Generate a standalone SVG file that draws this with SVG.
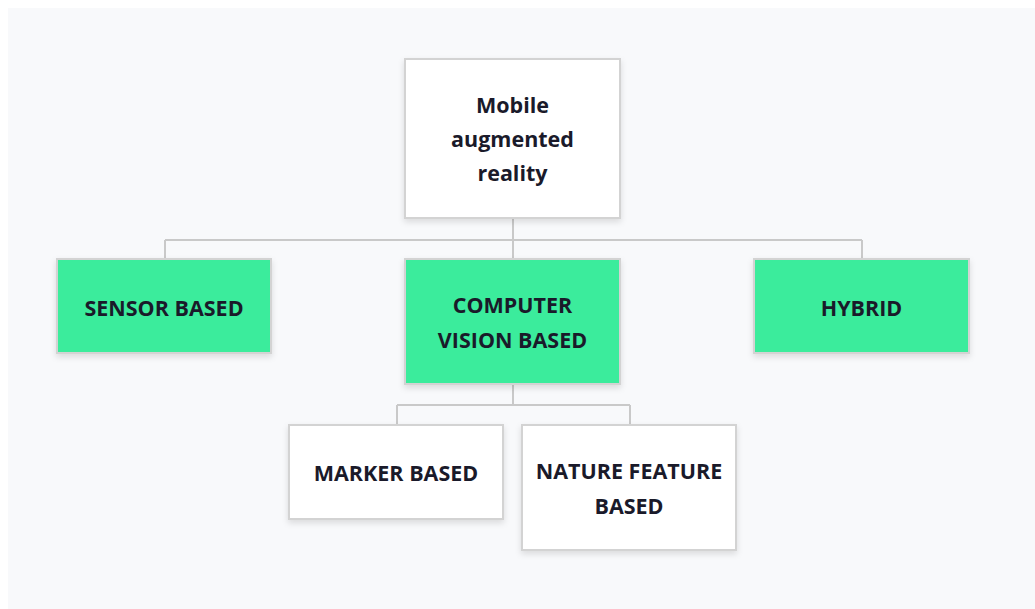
<svg xmlns="http://www.w3.org/2000/svg" width="1035" height="609" viewBox="0 0 1035 609">
<defs>
<filter id="sh" x="-10%" y="-10%" width="120%" height="130%">
<feDropShadow dx="0" dy="3" stdDeviation="3" flood-color="#000" flood-opacity="0.12"/>
</filter>
<style>
.box{stroke:#d3d3d3;stroke-width:2;filter:url(#sh)}
.w{fill:#ffffff}
.g{fill:#3aec9c}
.t{font-family:"Open Sans","Noto Sans",sans-serif;font-weight:bold;font-size:21.5px;fill:#1a1a2a;text-anchor:middle}
.c{stroke:#c9c9c9;stroke-width:2;fill:none}
</style>
</defs>
<rect x="0" y="0" width="1035" height="609" fill="#ffffff"/>
<rect x="8" y="8" width="1027" height="601" fill="#f8f9fb"/>
<g id="connectors">
<path class="c" d="M513,218 V240 M165,240 H862 M165,240 V259 M513,240 V259 M862,240 V259"/>
<path class="c" d="M513,384 V405 M397,405 H630 M397,405 V425 M630,405 V425"/>
</g>
<g id="root">
<rect class="box w" x="405" y="59" width="215" height="159"/>
<text class="t" x="512.5" y="113">Mobile</text>
<text class="t" x="512.5" y="147">augmented</text>
<text class="t" x="512.5" y="181">reality</text>
</g>
<g id="sensor">
<rect class="box g" x="57" y="259" width="214" height="94"/>
<text class="t" x="164" y="316">SENSOR BASED</text>
</g>
<g id="cv">
<rect class="box g" x="405" y="259" width="215" height="125"/>
<text class="t" x="512.5" y="313">COMPUTER</text>
<text class="t" x="512.5" y="348">VISION BASED</text>
</g>
<g id="hybrid">
<rect class="box g" x="754" y="259" width="215" height="94"/>
<text class="t" x="861.5" y="316">HYBRID</text>
</g>
<g id="marker">
<rect class="box w" x="289" y="425" width="214" height="94"/>
<text class="t" x="396" y="481">MARKER BASED</text>
</g>
<g id="nature">
<rect class="box w" x="522" y="425" width="214" height="125"/>
<text class="t" x="629" y="479">NATURE FEATURE</text>
<text class="t" x="629" y="514">BASED</text>
</g>
</svg>
